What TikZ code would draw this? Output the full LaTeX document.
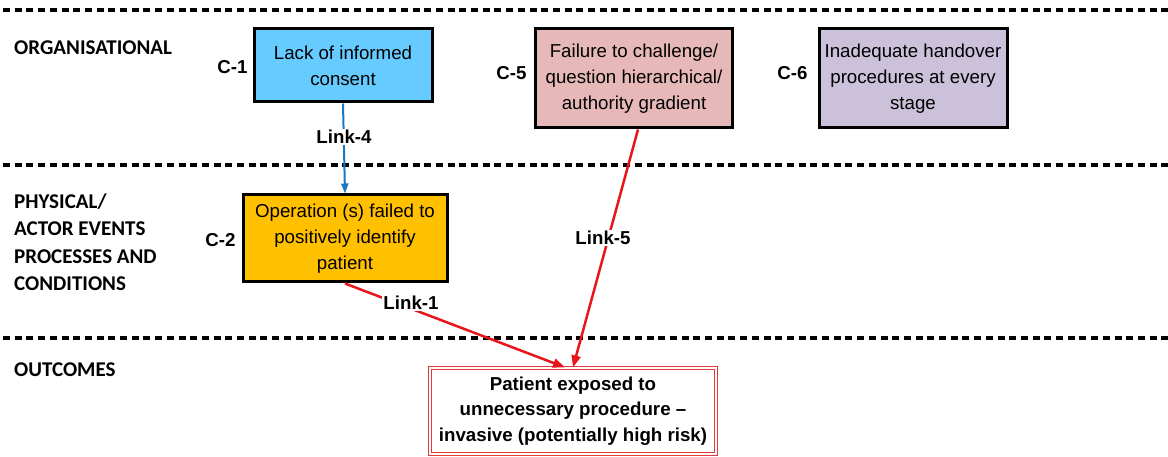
\documentclass[tikz,border=0pt]{standalone}
\usepackage{fontspec}
\setmainfont{Liberation Sans}
\newfontfamily\layerfont{Carlito}
\usetikzlibrary{arrows.meta}
\definecolor{consentblue}{HTML}{66CCFF}
\definecolor{challengepink}{HTML}{E6B9B8}
\definecolor{handoverlilac}{HTML}{CCC1DA}
\definecolor{operationamber}{HTML}{FFC000}
\definecolor{linkblue}{HTML}{1A78C2}
\definecolor{linkred}{HTML}{E8161B}
\definecolor{outred}{HTML}{E03A3C}
\begin{document}
\begin{tikzpicture}[x=1pt,y=-1pt,
  cause/.style={draw=black, line width=3pt, align=center, inner sep=0pt,
    font=\fontsize{18.7}{26}\selectfont},
  tag/.style={font=\fontsize{18.7}{22}\selectfont\bfseries},
  layer/.style={anchor=west, align=left, inner sep=0pt,
    font=\layerfont\fontsize{21}{27.5}\selectfont\bfseries},
  divider/.style={line width=4pt, dash pattern=on 7pt off 4.7pt},
  linklabel/.style={fill=white, inner sep=1pt, font=\fontsize{18.7}{22}\selectfont\bfseries},
  bluelink/.style={draw=linkblue, line width=2pt, -{Triangle[length=10pt,width=7pt]}},
  redlink/.style={draw=linkred, line width=2.5pt, -{Triangle[length=12pt,width=9pt]}}
]
\useasboundingbox (0,0) rectangle (1168,457);

% layer dividers
\coordinate (d1a) at (3,10);   \coordinate (d1b) at (1168,10);
\coordinate (d2a) at (3,165);  \coordinate (d2b) at (1168,165);
\coordinate (d3a) at (3,338);  \coordinate (d3b) at (1168,338);
\draw[divider] (d1a) -- (d1b);
\draw[divider] (d2a) -- (d2b);
\draw[divider] (d3a) -- (d3b);

% layer names
\node[layer] (lorg) at (14,48) {ORGANISATIONAL};
\node[layer] (lphys) at (14,242) {PHYSICAL/\\ACTOR EVENTS\\PROCESSES AND\\CONDITIONS};
\node[layer] (lout) at (14,370) {OUTCOMES};

% contributing factors
\node[cause, fill=consentblue, minimum width=178, minimum height=73] (c1) at (343,65.5)
  {Lack of informed\\consent};
\node[cause, fill=challengepink, minimum width=197, minimum height=99] (c5) at (634,78.5)
  {Failure to challenge/\\question hierarchical/\\authority gradient};
\node[cause, fill=handoverlilac, minimum width=188, minimum height=99] (c6) at (913,78.5)
  {Inadequate handover\\procedures at every\\stage};
\node[cause, fill=operationamber, minimum width=204, minimum height=87] (c2) at (345,238.5)
  {Operation (s) failed to\\positively identify\\patient};

% outcome
\node[draw=outred, double=white, double distance=2pt, line width=1.3pt, fill=white,
  align=center, minimum width=286, minimum height=86, inner sep=0pt,
  font=\fontsize{18.7}{25.5}\selectfont\bfseries] (out) at (573,411)
  {Patient exposed to\\unnecessary procedure --\\invasive (potentially high risk)};

% factor tags
\node[tag, anchor=east] (t1) at (251,67) {C-1};
\node[tag, anchor=east] (t5) at (530,73) {C-5};
\node[tag, anchor=east] (t6) at (811,73) {C-6};
\node[tag, anchor=east] (t2) at (239,240) {C-2};

% links
\draw[bluelink] (c1.south) -- (c2.north);
\draw[redlink] ([xshift=4pt]c5.south) -- (out.north);
\draw[redlink] (c2.south) -- ([xshift=-8pt]out.north);

\node[linklabel] (k4) at (344,137) {Link-4};
\node[linklabel] (k5) at (603,238) {Link-5};
\node[linklabel] (k1) at (411,303) {Link-1};
\end{tikzpicture}
\end{document}
